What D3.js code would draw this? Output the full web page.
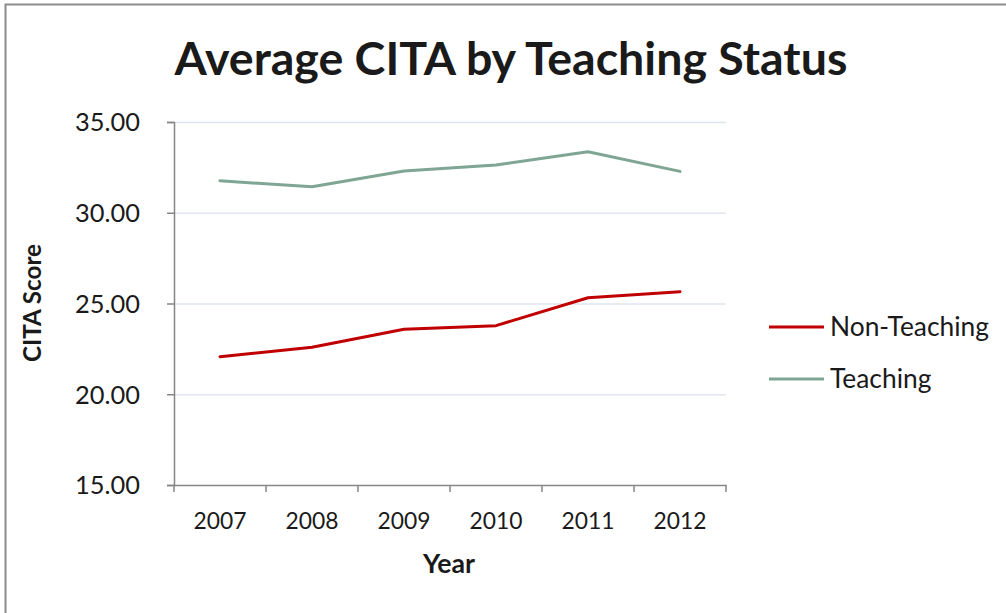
<!DOCTYPE html>
<html><head><meta charset="utf-8">
<script src="https://cdn.jsdelivr.net/npm/d3@7"></script>
<style>
html,body{margin:0;padding:0;background:#fff;}
svg text{font-family:Lato,"Open Sans",sans-serif;fill:#1a1a1a;}
</style></head>
<body><svg id="c" width="1006" height="613"></svg>
<script>
const years = ["2007","2008","2009","2010","2011","2012"];
const nonTeaching = [22.07, 22.59, 23.58, 23.78, 25.32, 25.65];
const teaching = [31.76, 31.43, 32.30, 32.63, 33.36, 32.28];
const yTicks = [15, 20, 25, 30, 35];
const seriesNames = ["Non-Teaching", "Teaching"];
const seriesColors = ["#c00000", "#7fa594"];

const svg = d3.select("#c");
// frame
svg.append("path").attr("d","M5.5,613 L5.5,4.5 L1006,4.5").attr("fill","none").attr("stroke","#8c8c8c").attr("stroke-width",2);

const L = 174, R = 726, T = 122, B = 485;
const x = d3.scaleBand().domain(years).range([L, R]);
const y = d3.scaleLinear().domain([15, 35]).range([B, T]);

function fitSize(sel, w){ const n = sel.node(); const cur = n.getComputedTextLength(); const fs = parseFloat(sel.attr("font-size")); return fs * w / cur; }
function fit(sel, w){ sel.attr("font-size", fitSize(sel, w)); }

// gridlines
svg.append("g").selectAll("line").data(yTicks.filter(d=>d>15)).join("line")
  .attr("x1", L).attr("x2", R).attr("y1", d=>y(d)+0.5).attr("y2", d=>y(d)+0.5)
  .attr("stroke", "#dfe4ee").attr("stroke-width", 1.5);

// y axis
const ya = svg.append("g").attr("transform", `translate(${L},0)`)
  .call(d3.axisLeft(y).tickValues(yTicks).tickSize(7).tickPadding(27).tickFormat(d3.format(".2f")));
ya.select(".domain").attr("stroke","#868686").attr("stroke-width",1.5);
ya.selectAll(".tick line").attr("stroke","#868686").attr("stroke-width",1.5);
ya.selectAll("text").attr("font-size",23).attr("font-family","Lato").attr("fill","#1a1a1a").attr("dy","0.35em");
const yfs = fitSize(ya.select(".tick:last-of-type text"), 65);
ya.selectAll("text").attr("font-size", yfs);

// x axis
const xa = svg.append("g").attr("transform", `translate(0,${B})`)
  .call(d3.axisBottom(x).tickSize(0).tickPadding(28));
xa.select(".domain").attr("stroke","#868686").attr("stroke-width",1.5);
xa.selectAll("text").attr("font-size",22).attr("font-family","Lato").attr("fill","#1a1a1a").attr("dy","0.71em");
const xfs = fitSize(xa.select(".tick text"), 53);
xa.selectAll("text").attr("font-size", xfs);
svg.append("g").selectAll("line").data(d3.range(years.length+1)).join("line")
  .attr("x1", i=>L + i*x.step()).attr("x2", i=>L + i*x.step())
  .attr("y1", B).attr("y2", B+7).attr("stroke","#868686").attr("stroke-width",1.5);

// lines
const line = d3.line().x((d,i)=>x(years[i]) + x.bandwidth()/2).y(d=>y(d));
[nonTeaching, teaching].forEach((s,k)=>{
  svg.append("path").datum(s).attr("d", line).attr("fill","none")
    .attr("stroke", seriesColors[k]).attr("stroke-width", 3).attr("stroke-linejoin","round").attr("stroke-linecap","round");
});

// title
const t = svg.append("text").attr("x", 511).attr("y", 75).attr("text-anchor","middle")
  .attr("font-size", 46).attr("font-weight","bold").attr("fill","#000").text("Average CITA by Teaching Status");
fit(t, 673);

// axis titles
const yt = svg.append("text").attr("transform","translate(41,303) rotate(-90)").attr("text-anchor","middle")
  .attr("font-size",20).attr("font-weight","bold").attr("fill","#000").text("CITA Score");
fit(yt, 118);
const xt = svg.append("text").attr("x", 449).attr("y", 573).attr("text-anchor","middle")
  .attr("font-size",20).attr("font-weight","bold").attr("fill","#000").text("Year");
fit(xt, 52);

// legend
const lg = svg.append("g");
let lfs = 23;
seriesNames.forEach((n,k)=>{
  const yy = 327 + k*52;
  lg.append("line").attr("x1",769).attr("x2",824).attr("y1",yy).attr("y2",yy)
    .attr("stroke", seriesColors[k]).attr("stroke-width",3);
  const tx = lg.append("text").attr("x",830).attr("y",yy).attr("dy","0.35em").attr("font-size",lfs).text(n);
  if(k===0){ lfs = fitSize(tx, 159); tx.attr("font-size", lfs); }
});
</script></body></html>
